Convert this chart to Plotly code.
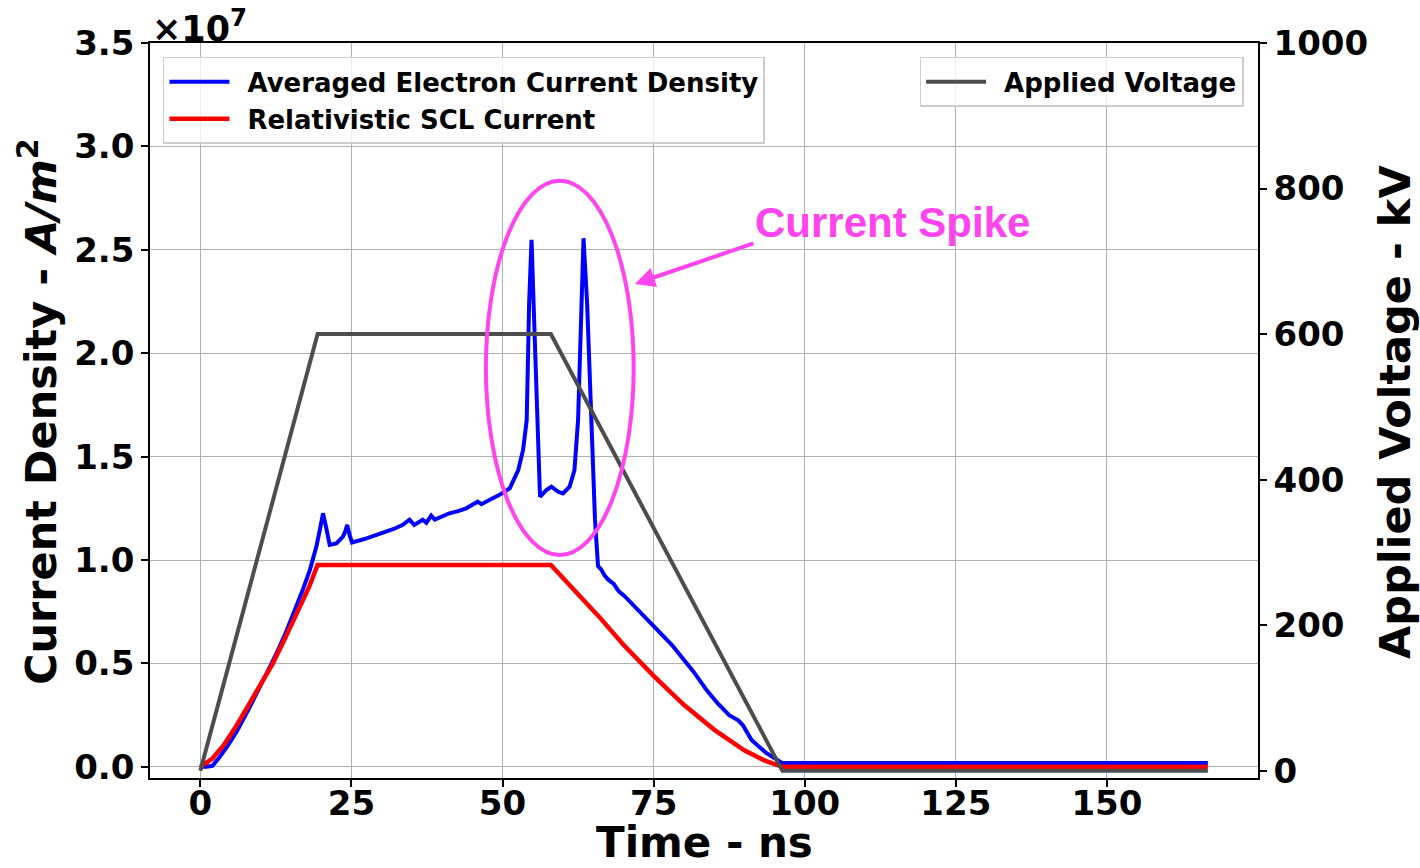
import plotly.graph_objects as go

# ---------------- data ----------------
# Current density values are in units of 1e7 A/m^2
t_avg = [0, 1.0, 2.0, 3.0, 4.4, 6.0, 8.2, 10.4, 12.6, 14.3, 15.9, 17.0, 18.1, 19.2, 19.8,
         20.3, 20.8, 21.4, 22.5, 23.6, 24.0, 24.3, 24.7, 25.1, 27.5, 30.2, 32.0, 33.5,
         34.6, 35.4, 36.2, 36.8, 37.4, 38.2, 38.8, 40.0, 41.2, 42.5, 44.0, 45.9, 46.5,
         47.5, 49.5, 51.2, 52.6, 53.4, 54.0, 54.4, 54.8, 55.3, 55.8, 56.2, 57.3, 58.1,
         59.2, 60.0, 61.1, 61.9, 62.5, 63.0, 63.4, 64.0, 64.7, 65.3, 65.8, 66.3, 66.9,
         67.5, 68.4, 69.2, 70.2, 72.0, 75.0, 78.0, 81.6, 83.8, 85.5, 87.5, 89.0, 89.8,
         91.2, 93.5, 96.3, 100.0, 166.7]
j_avg = [0, 0, 0.005, 0.04, 0.097, 0.17, 0.29, 0.42, 0.548, 0.66, 0.774, 0.86, 0.95, 1.065,
         1.15, 1.226, 1.16, 1.073, 1.08, 1.113, 1.14, 1.17, 1.12, 1.085, 1.105, 1.13, 1.15,
         1.17, 1.195, 1.17, 1.185, 1.195, 1.18, 1.215, 1.195, 1.21, 1.226, 1.235, 1.25,
         1.282, 1.27, 1.285, 1.315, 1.347, 1.435, 1.532, 1.677, 2.24, 2.548, 2.1, 1.66,
         1.306, 1.339, 1.355, 1.33, 1.322, 1.355, 1.435, 1.677, 2.16, 2.556, 2.24, 1.597,
         1.194, 0.97, 0.955, 0.925, 0.905, 0.885, 0.85, 0.825, 0.77, 0.68, 0.59, 0.46,
         0.37, 0.31, 0.25, 0.225, 0.2, 0.13, 0.07, 0.018, 0.018, 0.018]

t_scl = [0, 2, 4, 6, 8, 10, 12, 14, 16, 18, 19.4, 58.0, 62, 66, 70, 75, 80, 85, 90, 93.4, 96.3, 166.7]
j_scl = [0, 0.04, 0.11, 0.20, 0.30, 0.40, 0.50, 0.62, 0.74, 0.87, 0.976, 0.976, 0.85, 0.725,
         0.59, 0.44, 0.30, 0.18, 0.08, 0.03, 0, 0]

t_volt = [0, 19.4, 58.0, 96.3, 166.7]
volt_kv = [0, 600, 600, 0, 0]

x_ticks = [0, 25, 50, 75, 100, 125, 150]
y_ticks = [0.0, 0.5, 1.0, 1.5, 2.0, 2.5, 3.0, 3.5]
y2_ticks = [0, 200, 400, 600, 800, 1000]

FONT = "DejaVu Sans"
MAGENTA = "#ff44ee"
GAP = "\u2002"  # spacing between legend line and label

fig = go.Figure()
fig.add_trace(go.Scatter(x=t_avg, y=j_avg, mode="lines", name=GAP + "Averaged Electron Current Density",
                         line=dict(color="#0000ff", width=4), legend="legend", yaxis="y"))
fig.add_trace(go.Scatter(x=t_scl, y=j_scl, mode="lines", name=GAP + "Relativistic SCL Current",
                         line=dict(color="#ff0000", width=4.5), legend="legend", yaxis="y"))
fig.add_trace(go.Scatter(x=t_volt, y=volt_kv, mode="lines", name=GAP + "Applied Voltage",
                         line=dict(color="#4d4d4d", width=4), legend="legend2", yaxis="y2"))

tickfont = dict(family=FONT, size=34, color="black", weight="bold")
titlefont = dict(family=FONT, size=43, color="black", weight="bold")

fig.update_layout(
    width=1420, height=868,
    margin=dict(l=150, r=162, t=43, b=90, autoexpand=False),
    paper_bgcolor="white", plot_bgcolor="white",
    font=dict(family=FONT, color="black", weight="bold"),
    xaxis=dict(range=[-8.33, 175.0], tickvals=x_ticks, ticktext=[str(v) for v in x_ticks],
               tickfont=tickfont, ticks="outside", ticklen=7, tickwidth=1.5, tickcolor="black",
               ticklabelstandoff=-13,
               showline=True, linecolor="black", linewidth=1.5, mirror=True, automargin=False,
               showgrid=True, gridcolor="#b0b0b0", gridwidth=1, zeroline=False),
    yaxis=dict(range=[-0.054, 3.5], tickvals=y_ticks, ticktext=["%.1f" % v for v in y_ticks],
               tickfont=tickfont, ticks="outside", ticklen=7, tickwidth=1.5, tickcolor="black",
               showline=True, linecolor="black", linewidth=1.5, mirror=True, automargin=False,
               showgrid=True, gridcolor="#b0b0b0", gridwidth=1, zeroline=False),
    yaxis2=dict(range=[-10, 1000], tickvals=y2_ticks, ticktext=[str(v) for v in y2_ticks],
                overlaying="y", side="right", anchor="x", automargin=False,
                tickfont=tickfont, ticks="outside", ticklen=7, tickwidth=1.5, tickcolor="black",
                showline=True, linecolor="black", linewidth=1.5,
                showgrid=False, zeroline=False),
    legend=dict(x=0.0117, y=0.981, xanchor="left", yanchor="top", itemwidth=60,
                bgcolor="rgba(255,255,255,0.8)", bordercolor="#cccccc", borderwidth=1.5,
                font=dict(family=FONT, size=26, color="black", weight="bold")),
    legend2=dict(x=0.987, y=0.981, xanchor="right", yanchor="top", itemwidth=60,
                 bgcolor="rgba(255,255,255,0.8)", bordercolor="#cccccc", borderwidth=1.5,
                 font=dict(family=FONT, size=26, color="black", weight="bold")),
    showlegend=True,
)

# Axis titles
fig.add_annotation(xref="paper", yref="paper", x=0.5, y=-0.088, xanchor="center", yanchor="middle",
                   text="Time - ns", showarrow=False, font=dict(family=FONT, size=42, color="black", weight="bold"))
fig.add_annotation(xref="paper", yref="paper", x=-0.101, y=0.498, xanchor="center", yanchor="middle",
                   textangle=-90, text="Current Density - <i>A/m</i><sup>2</sup>", showarrow=False,
                   font=titlefont)
fig.add_annotation(xref="paper", yref="paper", x=1.1236, y=0.498, xanchor="center", yanchor="middle",
                   textangle=-90, text="Applied Voltage - kV", showarrow=False, font=titlefont)

# Ellipse highlighting the spikes
fig.add_shape(type="circle", xref="x", yref="y", x0=47.25, x1=71.7, y0=1.024, y1=2.834,
              line=dict(color=MAGENTA, width=4), layer="above")

# Arrow
fig.add_annotation(xref="x", yref="y", x=71.9, y=2.335, ax=120, ay=-41, axref="pixel", ayref="pixel",
                   text="", showarrow=True, arrowhead=2, arrowsize=1.0, arrowwidth=4,
                   arrowcolor=MAGENTA)
# Label
fig.add_annotation(xref="x", yref="y", x=114.5, y=2.63, text="Current Spike", showarrow=False,
                   font=dict(family="Liberation Sans", size=42, color=MAGENTA, weight="bold"))

# Scale factor
fig.add_annotation(xref="paper", yref="paper", x=0.0, y=1.0, xanchor="left", yanchor="bottom",
                   text="×10<sup>7</sup>", showarrow=False, yshift=-8,
                   font=dict(family=FONT, size=35, color="black"))

fig.write_html("out.html")
